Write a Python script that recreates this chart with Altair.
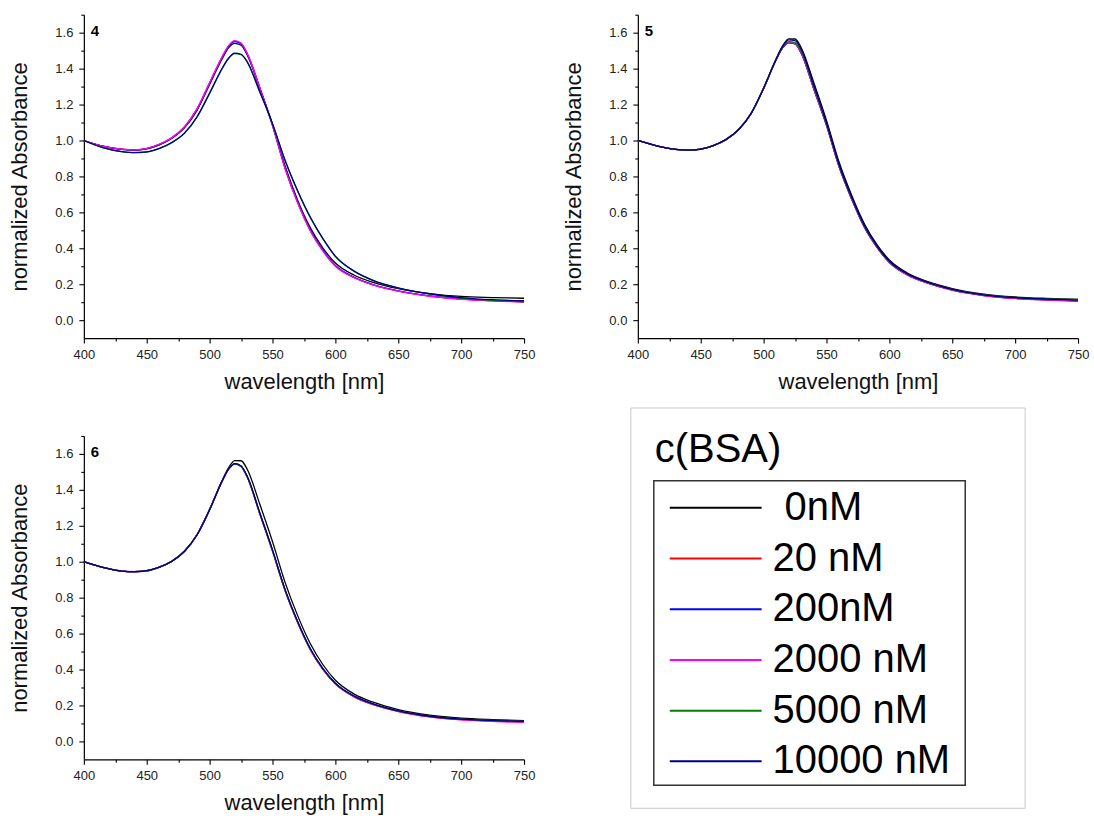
import altair as alt
import pandas as pd

# ---------------- data ----------------
WAVELENGTH = [400, 415, 430, 440, 450, 460, 470, 480, 490, 500, 510, 515, 520, 525, 530,
              540, 550, 560, 570, 580, 590, 600, 615, 630, 650, 675, 700, 725, 750]

SERIES = ["0nM", "20 nM", "200nM", "2000 nM", "5000 nM", "10000 nM"]
COLORS = ["#000000", "#ff0000", "#0000ff", "#ff00ff", "#008000", "#000080"]

# panel 4
P4_0 = [1.000, 0.968, 0.950, 0.946, 0.953, 0.975, 1.012, 1.070, 1.168, 1.312, 1.455, 1.515, 1.540, 1.530, 1.475,
        1.288, 1.088, 0.858, 0.668, 0.515, 0.402, 0.318, 0.250, 0.210, 0.175, 0.148, 0.132, 0.126, 0.122]
P4_20 = [1.000, 0.968, 0.952, 0.948, 0.955, 0.978, 1.015, 1.075, 1.175, 1.320, 1.465, 1.525, 1.553, 1.540, 1.482,
         1.292, 1.085, 0.845, 0.655, 0.500, 0.388, 0.302, 0.237, 0.197, 0.162, 0.134, 0.117, 0.108, 0.102]
P4_200 = [1.000, 0.968, 0.951, 0.947, 0.955, 0.977, 1.014, 1.074, 1.173, 1.318, 1.462, 1.522, 1.550, 1.538, 1.480,
          1.290, 1.086, 0.847, 0.657, 0.502, 0.390, 0.304, 0.239, 0.198, 0.163, 0.135, 0.118, 0.110, 0.104]
P4_2000 = [1.000, 0.968, 0.952, 0.948, 0.956, 0.979, 1.016, 1.076, 1.177, 1.322, 1.467, 1.527, 1.556, 1.542, 1.483,
           1.291, 1.083, 0.843, 0.653, 0.498, 0.386, 0.300, 0.236, 0.196, 0.161, 0.133, 0.116, 0.107, 0.101]
P4_5000 = [1.000, 0.960, 0.938, 0.932, 0.936, 0.955, 0.988, 1.040, 1.130, 1.262, 1.400, 1.455, 1.483, 1.478, 1.435,
           1.268, 1.092, 0.888, 0.718, 0.572, 0.453, 0.354, 0.271, 0.220, 0.178, 0.145, 0.123, 0.110, 0.102]
P4_10000 = [1.000, 0.960, 0.938, 0.933, 0.937, 0.956, 0.989, 1.041, 1.132, 1.264, 1.402, 1.458, 1.486, 1.480, 1.437,
            1.270, 1.094, 0.890, 0.720, 0.574, 0.455, 0.356, 0.273, 0.222, 0.180, 0.147, 0.126, 0.114, 0.108]

# panel 5
P5_0 = [1.000, 0.970, 0.950, 0.946, 0.952, 0.972, 1.005, 1.060, 1.150, 1.292, 1.455, 1.525, 1.566, 1.565, 1.515,
        1.320, 1.112, 0.880, 0.695, 0.538, 0.422, 0.335, 0.260, 0.216, 0.176, 0.145, 0.129, 0.121, 0.116]
P5_20 = [1.000, 0.970, 0.950, 0.946, 0.952, 0.972, 1.005, 1.060, 1.150, 1.290, 1.450, 1.515, 1.545, 1.538, 1.485,
         1.285, 1.085, 0.855, 0.675, 0.520, 0.408, 0.322, 0.250, 0.208, 0.168, 0.138, 0.122, 0.114, 0.108]
P5_200 = [1.000, 0.970, 0.950, 0.945, 0.951, 0.971, 1.004, 1.059, 1.149, 1.289, 1.449, 1.514, 1.544, 1.537, 1.484,
          1.284, 1.084, 0.854, 0.674, 0.519, 0.407, 0.321, 0.249, 0.207, 0.167, 0.137, 0.121, 0.112, 0.106]
P5_2000 = [1.000, 0.970, 0.951, 0.946, 0.952, 0.972, 1.005, 1.060, 1.151, 1.291, 1.451, 1.516, 1.546, 1.539, 1.486,
           1.286, 1.086, 0.856, 0.676, 0.521, 0.408, 0.322, 0.249, 0.207, 0.167, 0.137, 0.121, 0.113, 0.107]
P5_5000 = [1.000, 0.970, 0.950, 0.946, 0.952, 0.972, 1.005, 1.060, 1.150, 1.290, 1.451, 1.517, 1.550, 1.545, 1.494,
           1.295, 1.092, 0.862, 0.680, 0.525, 0.412, 0.326, 0.254, 0.212, 0.172, 0.142, 0.126, 0.119, 0.115]
P5_10000 = [1.000, 0.970, 0.950, 0.946, 0.952, 0.972, 1.005, 1.060, 1.150, 1.291, 1.453, 1.522, 1.560, 1.556, 1.505,
            1.305, 1.098, 0.868, 0.685, 0.528, 0.414, 0.328, 0.255, 0.212, 0.172, 0.141, 0.125, 0.117, 0.112]

# panel 6
P6_0 = [1.000, 0.968, 0.948, 0.945, 0.950, 0.970, 1.003, 1.058, 1.150, 1.291, 1.452, 1.522, 1.563, 1.562, 1.513,
        1.318, 1.112, 0.885, 0.700, 0.545, 0.428, 0.340, 0.263, 0.218, 0.177, 0.146, 0.129, 0.121, 0.116]
P6_20 = [1.000, 0.968, 0.948, 0.945, 0.950, 0.970, 1.003, 1.058, 1.150, 1.290, 1.450, 1.515, 1.545, 1.530, 1.470,
         1.265, 1.060, 0.840, 0.662, 0.512, 0.402, 0.320, 0.248, 0.205, 0.167, 0.137, 0.121, 0.113, 0.107]
P6_200 = [1.000, 0.968, 0.948, 0.944, 0.949, 0.969, 1.002, 1.057, 1.149, 1.289, 1.449, 1.514, 1.544, 1.531, 1.472,
          1.268, 1.063, 0.842, 0.664, 0.514, 0.404, 0.322, 0.250, 0.207, 0.169, 0.139, 0.123, 0.115, 0.110]
P6_2000 = [1.000, 0.968, 0.949, 0.945, 0.950, 0.970, 1.004, 1.059, 1.151, 1.291, 1.451, 1.516, 1.546, 1.531, 1.470,
           1.264, 1.059, 0.839, 0.661, 0.511, 0.401, 0.319, 0.247, 0.204, 0.166, 0.136, 0.120, 0.111, 0.106]
P6_5000 = [1.000, 0.968, 0.948, 0.945, 0.950, 0.970, 1.003, 1.058, 1.150, 1.290, 1.450, 1.515, 1.545, 1.531, 1.471,
           1.267, 1.062, 0.843, 0.665, 0.515, 0.405, 0.323, 0.251, 0.208, 0.170, 0.140, 0.124, 0.117, 0.113]
P6_10000 = [1.000, 0.968, 0.948, 0.945, 0.950, 0.970, 1.003, 1.058, 1.150, 1.290, 1.450, 1.515, 1.546, 1.533, 1.474,
            1.270, 1.066, 0.846, 0.667, 0.517, 0.406, 0.324, 0.252, 0.209, 0.170, 0.140, 0.124, 0.116, 0.112]

X_TICKS = list(range(400, 751, 25))
Y_TICKS = [round(i * 0.1, 1) for i in range(18)]

FONT = "Liberation Sans"
PW, PH = 441, 324


def long_df(arrays):
    rows = []
    for k, (name, vals) in enumerate(zip(SERIES, arrays)):
        for w, v in zip(WAVELENGTH, vals):
            rows.append({"wl": w, "A": v, "series": name, "k": k})
    return pd.DataFrame(rows)


color_scale = alt.Scale(domain=SERIES, range=COLORS)

x_axis = alt.Axis(
    values=X_TICKS, title="wavelength [nm]", grid=False,
    labelExpr="datum.value % 50 == 0 ? datum.label : ''",
    tickSize={"condition": {"test": "datum.value % 50 == 0", "value": 5}, "value": 3},
    labelFlush=False, labelOverlap=False, labelPadding=5,
    labelFontSize=13, labelColor="#222222", labelFont=FONT,
    titleFontSize=22, titleFontWeight="normal", titleColor="#111111", titleFont=FONT,
    titlePadding=10, domainColor="#000000", domainWidth=1.2, tickColor="#000000", tickWidth=1.1,
)
y_axis = alt.Axis(
    values=Y_TICKS, format=".1f", title="normalized Absorbance", grid=False,
    labelExpr="round(datum.value * 10) % 2 == 0 ? datum.label : ''",
    tickSize={"condition": {"test": "round(datum.value * 10) % 2 == 0", "value": 5}, "value": 3},
    labelFlush=False, labelOverlap=False, labelPadding=6,
    labelFontSize=13, labelColor="#222222", labelFont=FONT,
    titleFontSize=22, titleFontWeight="normal", titleColor="#111111", titleFont=FONT,
    titlePadding=23, domainColor="#000000", domainWidth=1.2, tickColor="#000000", tickWidth=1.1,
)

no_view = alt.ViewBackground(strokeWidth=0, stroke="transparent")


def panel(arrays, label):
    df = long_df(arrays)
    lines = alt.Chart(df).mark_line(strokeWidth=1.3, interpolate="monotone").encode(
        x=alt.X("wl:Q", scale=alt.Scale(domain=[400, 750], nice=False, zero=False), axis=x_axis),
        y=alt.Y("A:Q", scale=alt.Scale(domain=[-0.1, 1.7], nice=False, zero=False), axis=y_axis),
        color=alt.Color("series:N", scale=color_scale, legend=None),
        order=alt.Order("k:Q"),
    )
    tag = alt.Chart(pd.DataFrame({"t": [label]})).mark_text(
        font=FONT, fontSize=15, fontWeight="bold", align="left", baseline="top", color="#000000"
    ).encode(text="t:N", x=alt.value(7), y=alt.value(9))
    return alt.layer(lines, tag).properties(width=PW, height=PH, view=no_view)


p4 = panel([P4_0, P4_20, P4_200, P4_2000, P4_5000, P4_10000], "4")
p5 = panel([P5_0, P5_20, P5_200, P5_2000, P5_5000, P5_10000], "5")
p6 = panel([P6_0, P6_20, P6_200, P6_2000, P6_5000, P6_10000], "6")

# ---------------- legend panel ----------------
leg_df = pd.DataFrame({"series": SERIES})
box_df = pd.DataFrame({"title": ["c(BSA)"]})
y_leg = alt.Y("series:N", scale=alt.Scale(type="point", domain=SERIES, range=[72, 326], padding=0), axis=None)

outer = alt.Chart(box_df).mark_rect(fill="#ffffff", stroke="#c8c8c8", strokeWidth=1).encode(
    x=alt.value(-7), x2=alt.value(388), y=alt.value(-28), y2=alt.value(373))
inner = alt.Chart(box_df).mark_rect(fillOpacity=0, stroke="#333333", strokeWidth=1.5).encode(
    x=alt.value(16), x2=alt.value(328), y=alt.value(45), y2=alt.value(350))
title = alt.Chart(box_df).mark_text(font=FONT, fontSize=40, align="left", baseline="alphabetic",
                                    color="#000000").encode(
    text="title:N", x=alt.value(17), y=alt.value(26))
samples = alt.Chart(leg_df).mark_rule(strokeWidth=2).encode(
    x=alt.value(32), x2=alt.value(124), y=y_leg,
    color=alt.Color("series:N", scale=color_scale, legend=None))
labels_first = alt.Chart(leg_df).transform_filter("datum.series == '0nM'").mark_text(
    font=FONT, fontSize=40, align="left", baseline="middle", color="#000000").encode(
    text="series:N", x=alt.value(147), y=y_leg)
labels_rest = alt.Chart(leg_df).transform_filter("datum.series != '0nM'").mark_text(
    font=FONT, fontSize=40, align="left", baseline="middle", color="#000000").encode(
    text="series:N", x=alt.value(135), y=y_leg)

legend_panel = alt.layer(outer, inner, title, samples, labels_first, labels_rest).properties(
    width=PW, height=PH, view=no_view)

chart = alt.concat(
    p4, p5, p6, legend_panel, columns=2,
    spacing={"row": 98, "column": 114}, bounds="flush",
).properties(
    padding={"left": 8, "top": 8, "right": 5, "bottom": 5}
).configure_view(strokeWidth=0, stroke="transparent").configure(font=FONT)

chart.save("out.html", embed_options={"renderer": "svg", "actions": False})
